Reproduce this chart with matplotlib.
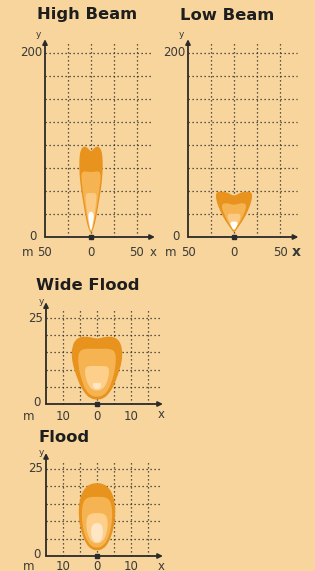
import matplotlib.pyplot as plt
import numpy as np
from matplotlib.path import Path
from matplotlib.patches import PathPatch

W, H = 315, 571
BG = '#F7D59C'
INK = '#2b2b2b'
TXT = '#3a3a3a'

# beam layers, outer to inner; right half outline (x, y) from bottom tip up to top centre
high_layers = [
    [(0, 3), (3, 10), (5.5, 20), (8, 35), (10.5, 50), (12, 62), (12.8, 75), (12.6, 86),
     (11.5, 94), (8.5, 98.5), (5, 98), (2, 95), (0, 93)],
    [(0, 4), (2.5, 12), (5, 25), (7.5, 40), (9.5, 55), (10.5, 64), (10.2, 69.5), (8, 71.5),
     (4, 71), (0, 70.5)],
    [(0, 5), (2, 12), (4, 25), (5.5, 38), (6.2, 44), (5, 47.5), (2, 48), (0, 47.5)],
    [(0, 6), (1.5, 12), (2.8, 20), (3, 24), (1.8, 27), (0, 27.5)],
]
low_layers = [
    [(0, 4), (4, 10), (9, 17), (13.5, 25), (17, 33), (19.2, 40), (19.8, 45), (19, 48.5),
     (15, 49.5), (8, 48.8), (3, 46), (0, 45)],
    [(0, 6), (4, 12), (8, 19), (11.5, 27), (13.3, 32), (12.8, 36), (8, 37), (3, 35.5), (0, 35)],
    [(0, 7), (3, 12), (6, 18), (7.3, 22), (6.5, 25), (3, 25.5), (0, 25)],
    [(0, 7), (2, 10), (3.8, 13.5), (3.8, 16), (1.5, 17), (0, 16.5)],
]
wide_layers = [
    [(0, 1.2), (2, 1.6), (3.5, 3), (4.8, 5), (6, 8), (7, 11), (7.5, 14), (7.3, 16.5),
     (6.5, 18.5), (5, 19.5), (3, 19.6), (1, 19.2), (0, 19)],
    [(0, 2), (2, 2.5), (3.5, 4.3), (4.5, 7), (5.3, 10), (5.6, 13), (5.3, 15.2), (4, 16),
     (2, 16.1), (0, 16)],
    [(0, 3.8), (1.5, 4.2), (2.6, 5.5), (3.3, 7.5), (3.6, 9.5), (3.3, 10.8), (2, 11.1), (0, 11)],
    [(0, 4.3), (0.8, 4.5), (1.3, 5.3), (1.1, 6.3), (0.5, 6.0), (0, 6.2)],
]
flood_layers = [
    [(0, 1.5), (1.8, 2), (3.2, 3.5), (4.3, 6), (5.1, 9), (5.4, 12), (5.3, 15), (4.7, 17.5),
     (3.6, 19.5), (2, 20.7), (0, 21)],
    [(0, 2.3), (1.7, 2.8), (3, 4.5), (3.9, 7), (4.4, 10), (4.5, 12.5), (4.2, 15), (3.4, 16.5),
     (1.8, 17), (0, 17)],
    [(0, 3.5), (1.5, 4), (2.5, 5.5), (3, 7.5), (3.2, 9.5), (2.9, 11.3), (2, 12.2), (0, 12.4)],
    [(0, 3.8), (1, 4.2), (1.6, 5.5), (1.8, 7.3), (1.5, 8.7), (0.8, 9.4), (0, 9.5)],
]
beam_colors = ['#E8931E', '#F6B352', '#FCCB83', '#FFFFFF']
flood_colors = ['#E8931E', '#F6B352', '#FDCF8A', '#FFE6C4']

titles = ['High Beam', 'Low Beam', 'Wide Flood', 'Flood']
long_xgrid = [-25, 0, 25, 50]
long_ygrid = [25, 50, 75, 100, 125, 150, 175, 200]
long_xlabels = [(-50, '50'), (0, '0'), (50, '50')]
long_ylabels = [(200, '200'), (0, '0')]
short_xgrid = [-10, -5, 0, 5, 10, 15]
short_ygrid = [5, 10, 15, 20, 25]
short_xlabels = [(-10, '10'), (0, '0'), (10, '10')]
short_ylabels = [(25, '25'), (0, '0')]

fig = plt.figure(figsize=(W / 100, H / 100), dpi=100)
fig.patch.set_facecolor(BG)


def smooth_patch(half, color):
    right = np.array(half, dtype=float)
    left = right[::-1][1:-1].copy()
    left[:, 0] *= -1
    pts = np.vstack([right, left])
    n = len(pts)
    mids = (pts + np.roll(pts, -1, axis=0)) / 2
    verts = [mids[-1]]
    codes = [Path.MOVETO]
    for i in range(n):
        verts += [pts[i], mids[i]]
        codes += [Path.CURVE3, Path.CURVE3]
    return PathPatch(Path(verts, codes), facecolor=color, edgecolor='none', zorder=3)


def panel(ox, oy, sx, sy, xmin, xend, ytop, xgrid, ygrid, gtop, gright, yarrow, xarrow,
          layers, colors, xlabels, ylabels, ylab_x0, lab_dy, ylab_off, xbold=False):
    ax = fig.add_axes([(ox + xmin * sx) / W, (H - oy) / H,
                       (xend - xmin) * sx / W, ytop * sy / H])
    ax.set_xlim(xmin, xend)
    ax.set_ylim(0, ytop)
    ax.axis('off')
    dots = dict(color=INK, lw=0.9, ls=(0, (1, 2.2)), zorder=1, clip_on=False)
    for gx in xgrid:
        ax.plot([gx, gx], [0, gtop], **dots)
    for gy in ygrid:
        ax.plot([xmin, gright], [gy, gy], **dots)
    for half, c in zip(layers, colors):
        ax.add_patch(smooth_patch(half, c))
    arrow = dict(arrowstyle='-|>', lw=1.3, color=INK, mutation_scale=7, shrinkA=0, shrinkB=0)
    ax.annotate('', xy=(xmin, yarrow), xytext=(xmin, 0), arrowprops=arrow,
                annotation_clip=False, zorder=4)
    ax.annotate('', xy=(xarrow, 0), xytext=(xmin, 0), arrowprops=arrow,
                annotation_clip=False, zorder=4)
    ax.plot([0], [0], marker='s', ms=3, color=INK, zorder=5, clip_on=False)
    for v, s in xlabels:
        ax.annotate(s, xy=(v, 0), xytext=(0, -lab_dy), textcoords='offset pixels',
                    ha='center', va='center', fontsize=8.5, color=TXT, annotation_clip=False)
    ax.annotate('m', xy=(xmin, 0), xytext=(-17, -lab_dy), textcoords='offset pixels',
                ha='center', va='center', fontsize=8.5, color=TXT, annotation_clip=False)
    ax.annotate('x', xy=(xarrow, 0), xytext=(-2, -lab_dy + 1), textcoords='offset pixels',
                ha='center', va='center', fontsize=10 if xbold else 8.5,
                fontweight='bold' if xbold else 'normal', color=TXT, annotation_clip=False)
    ax.annotate('y', xy=(xmin, yarrow), xytext=ylab_off, textcoords='offset pixels',
                ha='center', va='center', fontsize=6.5, color=TXT, annotation_clip=False)
    ax.annotate(ylabels[0][1], xy=(xmin, ylabels[0][0]), xytext=(-3, 0),
                textcoords='offset pixels', ha='right', va='center', fontsize=8.5,
                color=TXT, annotation_clip=False)
    ax.annotate(ylabels[1][1], xy=(xmin, ylabels[1][0]), xytext=(-ylab_x0, 1),
                textcoords='offset pixels', ha='right', va='center', fontsize=8.5,
                color=TXT, annotation_clip=False)
    return ax


panel(91, 237, 0.92, 0.92, -50, 67, 200, long_xgrid, long_ygrid, 212, 67, 215, 69.5,
      high_layers, beam_colors, long_xlabels, long_ylabels, 8, 16, (-7, 5))
panel(234, 237, 0.92, 0.92, -50, 68, 200, long_xgrid, long_ygrid, 212, 68, 215, 70,
      low_layers, beam_colors, long_xlabels, long_ylabels, 8, 16, (-7, 5), xbold=True)
panel(97, 404, 3.4, 3.44, -15, 18.5, 25, short_xgrid, short_ygrid, 27.3, 18.5, 29.6, 19.4,
      wide_layers, flood_colors, short_xlabels, short_ylabels, 5, 12, (-5, 1))
panel(97, 556, 3.4, 3.48, -15, 18.5, 25, short_xgrid, short_ygrid, 27.3, 18.5, 29.6, 19.4,
      flood_layers, flood_colors, short_xlabels, short_ylabels, 5, 11, (-5, 0))

title_kw = dict(fontsize=11.8, fontweight='bold', color='#1e1e1e', va='center')
fig.text(87 / W, 1 - 15 / H, titles[0], ha='center', **title_kw)
fig.text(227 / W, 1 - 15 / H, titles[1], ha='center', **title_kw)
fig.text(88 / W, 1 - 285 / H, titles[2], ha='center', **title_kw)
fig.text(38 / W, 1 - 437 / H, titles[3], ha='left', **title_kw)

fig.savefig('out.png', dpi=100, facecolor=BG)
